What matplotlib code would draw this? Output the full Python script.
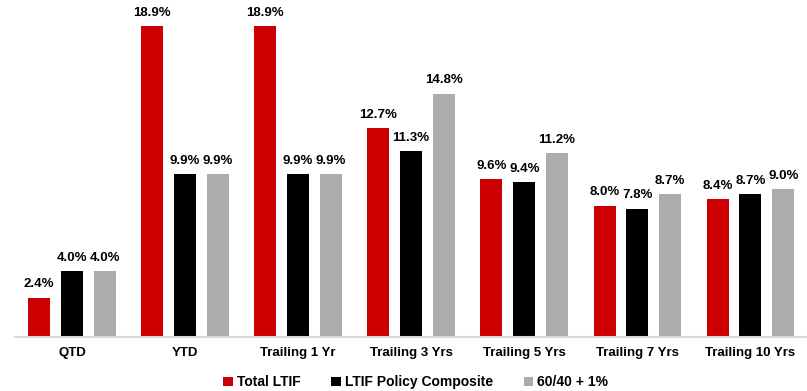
import numpy as np
import matplotlib.pyplot as plt

plt.rcParams['font.family'] = ['Liberation Sans', 'DejaVu Sans']
plt.rcParams['font.weight'] = 'bold'

periods = ["QTD", "YTD", "Trailing 1 Yr", "Trailing 3 Yrs",
           "Trailing 5 Yrs", "Trailing 7 Yrs", "Trailing 10 Yrs"]
total_ltif = [2.4, 18.9, 18.9, 12.7, 9.6, 8.0, 8.4]
policy_composite = [4.0, 9.9, 9.9, 11.3, 9.4, 7.8, 8.7]
sixty_forty = [4.0, 9.9, 9.9, 14.8, 11.2, 8.7, 9.0]

series = [
    ("Total LTIF", total_ltif, "#CC0000"),
    ("LTIF Policy Composite", policy_composite, "#000000"),
    ("60/40 + 1%", sixty_forty, "#AEABAB"),
]

fig = plt.figure(figsize=(8.07, 3.91), dpi=100)
ax = fig.add_axes([0.019, 0.138, 0.981, 0.862])

x = np.arange(len(periods))
width = 0.195
offset = 0.29

for i, (name, vals, color) in enumerate(series):
    pos = x + (i - 1) * offset
    bars = ax.bar(pos, vals, width, color=color, label=name, zorder=2)
    for b, v in zip(bars, vals):
        ax.text(b.get_x() + b.get_width() / 2, v + 0.45, f"{v:.1f}%",
                ha="center", va="bottom", fontsize=9.5, fontweight="bold")

ax.set_xlim(-0.5, len(periods) - 0.5)
ax.set_ylim(0, 20.5)
ax.set_xticks(x)
ax.set_xticklabels(periods, fontsize=9.5, fontweight="bold")
ax.tick_params(axis="x", length=0, pad=7)
ax.set_yticks([])
for side in ["top", "right", "left"]:
    ax.spines[side].set_visible(False)
ax.spines["bottom"].set_color("#D9D9D9")
ax.spines["bottom"].set_linewidth(1.5)

fig.legend(loc="lower center", bbox_to_anchor=(0.515, -0.028), ncol=3,
           frameon=False, fontsize=10, handlelength=0.7, handleheight=0.7,
           handletextpad=0.3, columnspacing=2.2)

fig.savefig("out.png", dpi=100)
